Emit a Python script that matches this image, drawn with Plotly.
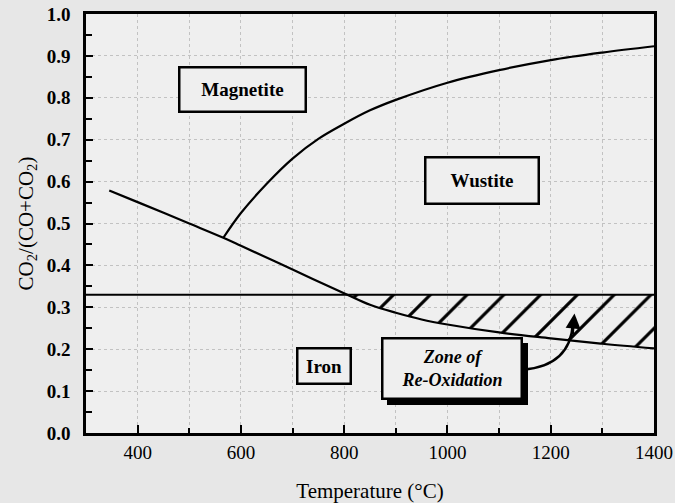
import plotly.graph_objects as go

# ---- data ----
temp_lower = [345, 400, 500, 566, 600, 700, 806, 850, 900, 950, 1000, 1100, 1200, 1300, 1400]
ratio_lower = [0.579, 0.551, 0.50, 0.466, 0.447, 0.39, 0.33, 0.306, 0.287, 0.271, 0.259, 0.240, 0.226, 0.213, 0.202]

temp_upper = [566, 600, 650, 700, 750, 800, 850, 900, 1000, 1100, 1200, 1300, 1400]
ratio_upper = [0.466, 0.525, 0.595, 0.655, 0.702, 0.738, 0.77, 0.795, 0.836, 0.866, 0.89, 0.908, 0.923]

boundary_ratio = 0.33
temp_range = [300, 1400]

hatch_temp = [806, 850, 900, 950, 1000, 1100, 1200, 1300, 1400]
hatch_lower = [0.33, 0.306, 0.287, 0.271, 0.259, 0.240, 0.226, 0.213, 0.202]

x_ticks = [400, 600, 800, 1000, 1200, 1400]
y_ticks = [0.0, 0.1, 0.2, 0.3, 0.4, 0.5, 0.6, 0.7, 0.8, 0.9, 1.0]

FONT = "Liberation Serif"
PAPER = "#e7e7e7"
PLOT = "#efefef"
GRID = "#c2c2c2"

fig = go.Figure()

# hatched zone of re-oxidation
fig.add_trace(go.Scatter(x=hatch_temp, y=hatch_lower, mode="lines", line_shape="spline",
                         line=dict(width=0), showlegend=False, hoverinfo="skip"))
fig.add_trace(go.Scatter(x=hatch_temp, y=[boundary_ratio] * len(hatch_temp), mode="lines",
                         line=dict(width=0), fill="tonexty", fillcolor="rgba(0,0,0,0)",
                         fillpattern=dict(shape="/", fgcolor="black", fgopacity=1,
                                          bgcolor="rgba(0,0,0,0)", size=26, solidity=0.12),
                         showlegend=False, hoverinfo="skip"))

# horizontal boundary line
fig.add_trace(go.Scatter(x=temp_range, y=[boundary_ratio, boundary_ratio], mode="lines",
                         line=dict(color="black", width=2.2), showlegend=False))
# phase boundaries
fig.add_trace(go.Scatter(x=temp_lower, y=ratio_lower, mode="lines", line_shape="spline",
                         line=dict(color="black", width=2.2), showlegend=False))
fig.add_trace(go.Scatter(x=temp_upper, y=ratio_upper, mode="lines", line_shape="spline",
                         line=dict(color="black", width=2.2), showlegend=False))

fig.update_xaxes(range=temp_range, tickvals=x_ticks, ticktext=[str(v) for v in x_ticks],
                 ticks="inside", ticklen=8, tickwidth=2, tickcolor="black",
                 showline=True, linecolor="black", linewidth=2.5, mirror=True,
                 showgrid=True, gridcolor=GRID, griddash="dot", gridwidth=1,
                 minor=dict(dtick=100, tick0=300, ticks="inside", ticklen=5, tickwidth=2,
                            tickcolor="black", showgrid=True, gridcolor=GRID,
                            griddash="dot", gridwidth=1),
                 tickfont=dict(family=FONT, size=19, color="black"), ticklabeloverflow="allow",
                 title=dict(text="Temperature (°C)", font=dict(family=FONT, size=21, color="black"),
                            standoff=24),
                 automargin=False, zeroline=False)
fig.update_yaxes(range=[0, 1], tickvals=y_ticks, ticktext=["<b>%.1f</b>" % v for v in y_ticks],
                 ticks="inside", ticklen=7, tickwidth=2, tickcolor="black",
                 showline=True, linecolor="black", linewidth=2.5, mirror=True,
                 showgrid=True, gridcolor=GRID, griddash="dot", gridwidth=1,
                 minor=dict(dtick=0.05, ticks="inside", ticklen=6, tickwidth=2, tickcolor="black",
                            showgrid=False),
                 tickfont=dict(family=FONT, size=19, color="black"), ticklabelstandoff=9,
                 title=dict(text="CO<sub>2</sub>/(CO+CO<sub>2</sub>)",
                            font=dict(family=FONT, size=21, color="black"), standoff=8),
                 automargin=False, zeroline=False)

# curved arrow from the zone label to the hatched area
fig.add_shape(type="path", path="M 1146 0.151 Q 1238 0.160 1243 0.262",
              line=dict(color="black", width=2.5), xref="x", yref="y")
fig.add_annotation(x=1246, y=0.285, ax=-2, ay=22, showarrow=True, arrowhead=2,
                   arrowsize=1.2, arrowwidth=2.5, arrowcolor="black", text="")

def box(text, x, y, w, h, size=19, shadow=False):
    if shadow:
        fig.add_annotation(x=x, y=y, text="", showarrow=False, width=w, height=h,
                           bgcolor="black", bordercolor="black", borderwidth=2, borderpad=0,
                           xshift=5, yshift=-5)
    fig.add_annotation(x=x, y=y, text=text, showarrow=False, width=w, height=h,
                       bgcolor=PLOT, bordercolor="black", borderwidth=2.5, borderpad=0,
                       font=dict(family=FONT, size=size, color="black"))

box("<b>Magnetite</b>", 603, 0.82, 124, 42)
box("<b>Wustite</b>", 1066, 0.603, 111, 44)
box("<b>Iron</b>", 761, 0.16, 51, 33)
box("<b><i>Zone of<br>Re-Oxidation</i></b>", 1009, 0.153, 137, 58, size=18, shadow=True)

fig.update_layout(width=675, height=503, margin=dict(l=86, r=21, t=14, b=70),
                  paper_bgcolor=PAPER, plot_bgcolor=PLOT, showlegend=False,
                  font=dict(family=FONT, color="black"))

fig.write_html("out.html", config={"displayModeBar": False},
               post_script="document.body.style.margin='0';document.body.style.background='%s';" % PAPER)
